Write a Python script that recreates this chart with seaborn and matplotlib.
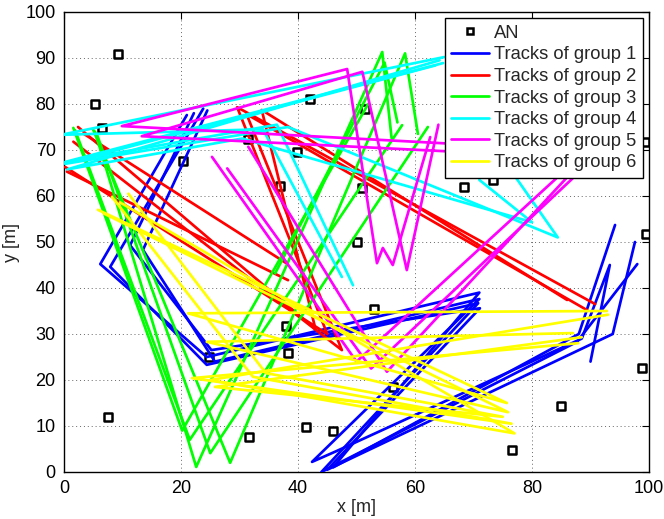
import matplotlib
matplotlib.use("Agg")
import matplotlib.pyplot as plt
import pandas as pd
import seaborn as sns
from matplotlib.lines import Line2D

# Anchor nodes (AN) positions [m]
an_x = [9.2, 5.3, 6.5, 20.3, 31.5, 37.0, 39.8, 42.0, 51.5, 51.0, 50.0, 68.4, 73.3,
        99.3, 99.5, 7.5, 31.6, 41.4, 46.0, 38.0, 38.3, 24.8, 53.0, 56.3, 76.6, 85.0, 98.8]
an_y = [90.8, 80.0, 74.8, 67.7, 72.4, 62.2, 69.6, 81.0, 79.0, 61.7, 50.0, 61.9, 63.5,
        71.7, 51.7, 12.0, 7.6, 9.8, 8.9, 31.7, 25.8, 25.0, 35.4, 18.5, 4.8, 14.3, 22.6]

# Track waypoints (x, y) for each group
group1_tracks = [
    [(21.0, 77.6), (6.2, 45.2), (24.4, 25.0), (71.0, 39.0), (46.0, 1.0), (88.0, 30.0), (94.2, 53.7)],
    [(23.8, 79.0), (7.9, 44.6), (24.4, 23.3), (70.8, 36.7), (44.0, 0.0), (87.7, 28.3), (98.0, 45.2)],
    [(22.2, 78.0), (11.3, 49.3), (25.2, 26.5), (71.1, 35.6), (45.0, 0.5), (93.8, 30.0), (97.6, 50.0)],
    [(24.5, 78.6), (13.5, 48.3), (25.8, 24.0), (71.0, 37.6), (42.4, 2.2), (46.5, 4.5),
     (88.5, 29.0), (93.3, 45.0), (90.0, 24.0)],
]
group2_tracks = [
    [(0.2, 66.3), (45.0, 30.0), (29.6, 79.3), (90.8, 36.5)],
    [(1.6, 71.8), (47.5, 26.5), (31.2, 77.8), (89.4, 35.2)],
    [(2.4, 75.0), (43.0, 31.0), (33.8, 78.7), (86.0, 37.4)],
    [(0.5, 65.3), (38.3, 41.7)],
    [(3.4, 73.5), (38.0, 45.4)],
]
group3_tracks = [
    [(1.6, 74.8), (20.2, 9.0), (52.0, 80.0)],
    [(1.9, 74.3), (21.5, 7.0), (57.8, 75.4)],
    [(5.3, 74.0), (22.6, 1.1), (54.4, 91.3), (56.0, 72.6)],
    [(5.6, 73.5), (25.0, 4.1), (62.2, 75.0)],
    [(5.0, 74.4), (28.4, 2.0), (58.3, 91.0), (60.5, 73.5)],
    [(36.1, 43.2), (54.8, 89.0), (57.0, 76.0)],
]
group4_tracks = [
    [(65.0, 90.2), (-0.5, 73.3), (34.0, 74.5), (47.5, 42.4)],
    [(64.8, 88.9), (0.2, 67.4), (36.4, 75.5), (49.4, 40.6)],
    [(64.2, 89.5), (0.6, 65.8), (30.5, 72.5), (80.0, 54.3), (71.0, 63.5)],
    [(63.5, 88.4), (0.2, 67.0), (38.3, 75.0), (84.4, 51.0), (74.5, 69.0)],
]
group5_tracks = [
    [(25.3, 68.5), (50.0, 24.0), (86.0, 66.0)],
    [(27.9, 66.0), (52.5, 22.5), (87.5, 64.5)],
    [(31.5, 70.7), (55.2, 21.8), (88.5, 67.5)],
    [(79.0, 70.5), (9.9, 75.2), (48.4, 87.6), (53.5, 45.4), (54.5, 48.7), (56.2, 45.0), (62.6, 72.8)],
    [(80.0, 68.8), (13.3, 73.0), (51.0, 87.0), (58.6, 43.9), (64.0, 75.5)],
]
group6_tracks = [
    [(5.8, 57.0), (75.7, 15.0), (21.2, 34.5), (92.8, 35.0)],
    [(6.8, 56.2), (75.9, 13.0), (24.4, 28.3), (87.0, 30.2)],
    [(8.2, 59.8), (32.3, 20.7), (76.5, 10.5), (21.9, 20.4), (87.9, 28.0)],
    [(9.6, 58.6), (77.0, 8.4), (25.0, 20.0), (93.0, 34.2)],
    [(11.0, 60.5), (34.5, 21.5), (75.0, 12.0), (25.8, 18.5), (88.5, 29.3)],
]

group_labels = ["Tracks of group 1", "Tracks of group 2", "Tracks of group 3",
                "Tracks of group 4", "Tracks of group 5", "Tracks of group 6"]
group_colors = ["#0000ff", "#ff0000", "#00ff00", "#00ffff", "#ff00ff", "#ffff00"]
all_groups = [group1_tracks, group2_tracks, group3_tracks,
              group4_tracks, group5_tracks, group6_tracks]

rows = []
for g, tracks in enumerate(all_groups):
    for t, pts in enumerate(tracks):
        for k, (x, y) in enumerate(pts):
            rows.append({"group": group_labels[g], "track": f"{g}-{t}", "k": k, "x": x, "y": y})
tracks_df = pd.DataFrame(rows)
an_df = pd.DataFrame({"x": an_x, "y": an_y})

sns.set_theme(style="white")
plt.rcParams["font.family"] = ["Liberation Sans", "DejaVu Sans"]
plt.rcParams["font.size"] = 13

fig = plt.figure(figsize=(6.64, 5.19), dpi=100)
ax = fig.add_axes([64 / 664, 1 - 472 / 519, 585 / 664, 460 / 519])

sns.scatterplot(data=an_df, x="x", y="y", marker="s", s=28, color="white",
                edgecolor="black", linewidth=1.8, ax=ax, legend=False, zorder=2)

for label, color in zip(group_labels, group_colors):
    sub = tracks_df[tracks_df["group"] == label]
    sns.lineplot(data=sub, x="x", y="y", units="track", estimator=None, sort=False,
                 color=color, linewidth=1.95, ax=ax, legend=False, zorder=3)

ax.set_xlim(0, 100)
ax.set_ylim(0, 100)
ax.set_xticks(range(0, 101, 20))
ax.set_yticks(range(0, 101, 10))
ax.grid(True, color="0.4", linestyle=(0, (1, 3)), linewidth=0.7)
ax.set_axisbelow(True)
for sp in ax.spines.values():
    sp.set_visible(True)
    sp.set_color("black")
    sp.set_linewidth(1.0)
ax.tick_params(direction="in", length=5, width=0.8, top=True, right=True,
               labelsize=13, colors="black", pad=6)
ax.set_xlabel("x [m]", fontsize=13, labelpad=1)
ax.set_ylabel("y [m]", fontsize=13, labelpad=4)

handles = [Line2D([], [], marker="s", linestyle="none", markerfacecolor="white",
                  markeredgecolor="black", markersize=5, markeredgewidth=1.8)]
handles += [Line2D([], [], color=c, linewidth=1.95) for c in group_colors]
leg = ax.legend(handles, ["AN"] + group_labels, loc="upper right",
                bbox_to_anchor=(0.989, 0.986), borderaxespad=0, fontsize=13.2,
                frameon=True, fancybox=False, framealpha=1, edgecolor="black",
                labelspacing=0.25, handlelength=2.05, handletextpad=0.28,
                borderpad=0.35)
leg.get_frame().set_linewidth(1.0)
leg.set_zorder(5)

fig.savefig("out.png", dpi=100)
